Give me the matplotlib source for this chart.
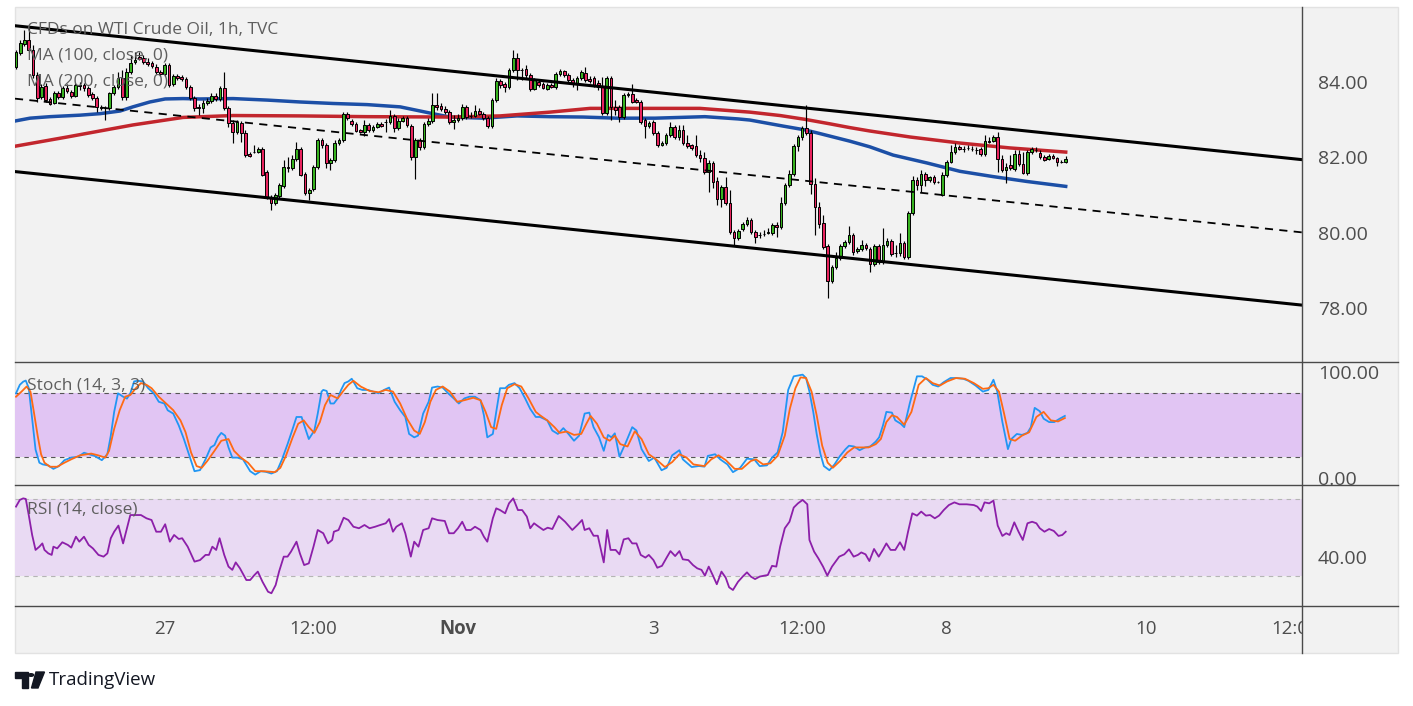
import numpy as np
import matplotlib
matplotlib.use("Agg")
import matplotlib.pyplot as plt
from matplotlib.patches import Rectangle, Polygon, Circle
from matplotlib.lines import Line2D

# ---------------------------------------------------------------- data
opens = [
    84.40, 84.77, 85.01, 85.11, 84.85, 84.19, 83.60, 83.89, 83.55, 83.44,
    83.71, 83.60, 83.84, 83.73, 83.63, 83.89, 83.92, 83.84, 83.68, 83.58,
    83.34, 83.31, 83.31, 83.71, 83.87, 84.11, 83.60, 84.27, 84.53, 84.66,
    84.64, 84.53, 84.51, 84.40, 84.27, 84.21, 84.45, 83.95, 84.16, 84.13,
    84.08, 83.87, 83.58, 83.34, 83.31, 83.44, 83.50, 83.63, 83.55, 83.84,
    83.31, 82.91, 82.67, 82.91, 82.65, 82.09, 82.14, 82.14, 82.22, 81.61,
    80.95, 80.79, 80.98, 81.24, 81.74, 81.72, 81.96, 82.22, 81.56, 81.06,
    81.16, 81.74, 82.46, 82.33, 81.85, 81.93, 82.38, 82.46, 83.15, 82.96,
    82.89, 82.73, 82.67, 82.86, 82.73, 82.81, 82.89, 82.94, 82.94, 83.10,
    82.78, 82.96, 83.04, 82.83, 82.01, 82.46, 82.28, 82.89, 82.96, 83.39,
    83.36, 83.28, 83.20, 82.94, 82.99, 83.04, 83.34, 83.10, 83.10, 83.23,
    83.15, 83.04, 82.83, 83.52, 84.03, 83.95, 83.87, 84.32, 84.64, 84.32,
    84.35, 84.19, 83.81, 84.00, 83.95, 83.81, 83.92, 83.87, 84.21, 84.29,
    84.19, 84.05, 83.97, 84.11, 84.24, 84.08, 84.11, 83.97, 83.87, 83.18,
    84.11, 83.34, 83.34, 83.07, 83.66, 83.68, 83.52, 83.47, 82.99, 82.83,
    82.94, 82.65, 82.33, 82.38, 82.59, 82.81, 82.54, 82.73, 82.38, 82.32,
    82.30, 82.06, 81.98, 81.61, 81.85, 81.37, 80.90, 81.21, 80.79, 80.02,
    79.86, 80.10, 80.23, 80.34, 80.02, 79.94, 79.97, 79.99, 79.99, 80.21,
    80.15, 80.79, 81.27, 81.56, 82.30, 82.54, 82.78, 82.65, 81.29, 80.68,
    80.26, 79.65, 78.72, 79.09, 79.33, 79.65, 79.75, 79.94, 79.52, 79.57,
    79.68, 79.57, 79.17, 79.65, 79.23, 79.68, 79.78, 79.46, 79.46, 79.73,
    79.36, 80.52, 81.40, 81.27, 81.56, 81.40, 81.48, 81.35, 81.00, 81.53,
    81.88, 82.14, 82.28, 82.22, 82.25, 82.22, 82.20, 82.22, 82.09, 82.43,
    82.43, 82.54, 81.96, 81.67, 81.80, 81.69, 82.09, 81.82, 81.59, 82.14,
    82.20, 82.12, 82.01, 81.96, 82.04, 81.98, 81.88, 81.88,
]
highs = [
    84.85, 85.11, 85.38, 85.43, 84.98, 84.27, 83.95, 83.97, 83.60, 83.76,
    83.76, 83.89, 83.95, 83.79, 83.97, 84.00, 83.97, 83.89, 83.73, 83.63,
    83.39, 83.36, 83.73, 83.92, 84.27, 84.32, 84.37, 84.72, 84.80, 84.80,
    84.72, 84.64, 84.56, 84.48, 84.32, 84.51, 84.51, 84.21, 84.21, 84.19,
    84.13, 83.92, 83.63, 83.42, 83.52, 83.58, 83.71, 83.71, 83.89, 84.27,
    83.36, 82.99, 82.99, 82.96, 82.73, 82.14, 82.33, 82.28, 82.28, 81.67,
    81.00, 81.06, 81.32, 81.93, 82.01, 82.06, 82.41, 82.28, 81.61, 81.19,
    81.80, 82.51, 82.51, 82.38, 81.98, 82.46, 82.51, 83.20, 83.20, 83.02,
    82.94, 82.75, 82.99, 82.91, 82.86, 82.94, 82.94, 83.02, 83.26, 83.15,
    83.04, 83.10, 83.10, 82.89, 82.51, 82.51, 82.94, 83.04, 83.71, 83.71,
    83.44, 83.36, 83.26, 83.12, 83.15, 83.42, 83.39, 83.20, 83.39, 83.31,
    83.20, 83.10, 83.58, 84.11, 84.08, 84.00, 84.37, 84.85, 84.77, 84.37,
    84.45, 84.24, 84.11, 84.05, 84.00, 83.97, 83.97, 84.27, 84.35, 84.32,
    84.24, 84.11, 84.16, 84.32, 84.40, 84.16, 84.16, 84.05, 84.13, 84.16,
    84.16, 83.52, 83.39, 83.71, 83.73, 83.95, 83.58, 83.52, 83.04, 82.96,
    82.99, 82.70, 82.43, 82.65, 82.94, 82.86, 82.86, 82.86, 82.59, 82.36,
    82.59, 82.20, 82.14, 81.93, 81.90, 81.48, 81.27, 81.48, 81.13, 80.07,
    80.10, 80.29, 80.42, 80.39, 80.07, 80.02, 80.07, 80.13, 80.26, 80.29,
    80.95, 81.32, 81.67, 82.36, 82.59, 82.83, 83.39, 82.73, 81.45, 80.82,
    80.47, 79.70, 79.15, 79.49, 79.70, 79.81, 80.18, 79.99, 79.62, 79.81,
    79.73, 79.62, 79.70, 79.70, 80.13, 79.86, 79.83, 79.68, 79.99, 79.78,
    80.58, 81.51, 81.48, 81.67, 81.61, 81.51, 81.53, 81.37, 81.61, 81.93,
    82.33, 82.38, 82.33, 82.30, 82.33, 82.30, 82.28, 82.28, 82.59, 82.54,
    82.59, 82.67, 82.06, 81.85, 82.06, 82.20, 82.20, 82.14, 82.20, 82.28,
    82.28, 82.20, 82.06, 82.09, 82.09, 82.01, 81.93, 82.04,
]
lows = [
    84.35, 84.72, 84.95, 84.80, 84.11, 83.47, 83.55, 83.47, 83.39, 83.42,
    83.55, 83.55, 83.71, 83.58, 83.60, 83.79, 83.76, 83.60, 83.52, 83.20,
    83.26, 82.99, 83.26, 83.66, 83.81, 83.52, 83.52, 84.21, 84.48, 84.58,
    84.48, 84.43, 84.37, 84.21, 84.16, 84.16, 83.87, 83.89, 84.05, 84.03,
    83.81, 83.52, 83.23, 83.12, 83.18, 83.39, 83.44, 83.50, 83.50, 83.26,
    82.81, 82.38, 82.62, 82.41, 82.01, 82.01, 82.12, 82.12, 81.51, 80.90,
    80.60, 80.74, 80.92, 81.19, 81.61, 81.67, 81.90, 81.51, 81.00, 80.87,
    81.11, 81.69, 82.25, 81.72, 81.67, 81.88, 82.33, 82.41, 82.99, 82.83,
    82.67, 82.65, 82.57, 82.67, 82.67, 82.78, 82.81, 82.67, 82.89, 82.67,
    82.73, 82.94, 82.81, 81.93, 81.43, 82.20, 82.22, 82.83, 82.91, 83.26,
    83.23, 83.15, 82.89, 82.75, 82.94, 82.99, 83.02, 83.04, 83.07, 83.12,
    82.99, 82.78, 82.78, 83.47, 83.84, 83.73, 83.81, 84.27, 84.05, 84.05,
    84.11, 83.76, 83.79, 83.87, 83.81, 83.79, 83.84, 83.81, 84.16, 84.13,
    84.00, 83.87, 83.79, 84.05, 84.00, 83.97, 83.87, 83.79, 83.12, 83.12,
    82.99, 83.12, 82.94, 83.02, 83.60, 83.44, 83.44, 82.89, 82.51, 82.78,
    82.59, 82.28, 82.30, 82.33, 82.54, 82.49, 82.46, 82.33, 82.25, 82.20,
    82.01, 81.88, 81.56, 81.08, 81.19, 80.74, 80.68, 80.74, 79.97, 79.68,
    79.81, 80.05, 80.18, 79.97, 79.73, 79.86, 79.91, 79.97, 79.94, 79.89,
    80.10, 80.74, 81.21, 81.51, 82.17, 82.46, 82.59, 81.03, 79.94, 80.13,
    79.57, 78.27, 78.67, 79.04, 79.28, 79.60, 79.70, 79.41, 79.46, 79.52,
    79.54, 78.96, 79.12, 79.17, 79.17, 79.62, 79.38, 79.36, 79.38, 79.30,
    79.30, 80.47, 81.13, 81.08, 81.24, 81.35, 81.29, 81.32, 80.98, 81.48,
    81.85, 82.09, 82.20, 82.14, 82.20, 82.17, 82.09, 82.04, 82.04, 82.38,
    82.41, 81.61, 81.61, 81.32, 81.67, 81.64, 81.77, 81.56, 81.53, 82.09,
    82.14, 81.96, 81.90, 81.93, 81.96, 81.77, 81.85, 81.85,
]
closes = [
    84.80, 85.03, 85.11, 84.85, 84.19, 83.58, 83.87, 83.52, 83.42, 83.71,
    83.60, 83.84, 83.76, 83.63, 83.92, 83.92, 83.84, 83.66, 83.58, 83.34,
    83.31, 83.30, 83.71, 83.87, 84.11, 83.60, 84.27, 84.51, 84.58, 84.61,
    84.53, 84.48, 84.43, 84.27, 84.21, 84.45, 83.92, 84.16, 84.11, 84.08,
    83.87, 83.58, 83.31, 83.30, 83.44, 83.50, 83.63, 83.55, 83.84, 83.31,
    82.91, 82.67, 82.94, 82.65, 82.06, 82.04, 82.13, 82.22, 81.53, 80.95,
    80.79, 81.00, 81.27, 81.74, 81.72, 81.96, 82.22, 81.53, 81.06, 81.13,
    81.74, 82.46, 82.33, 81.85, 81.93, 82.38, 82.46, 83.15, 83.04, 82.89,
    82.70, 82.67, 82.86, 82.73, 82.81, 82.89, 82.83, 82.93, 83.10, 82.78,
    82.96, 83.04, 82.86, 82.01, 82.46, 82.28, 82.89, 82.96, 83.39, 83.34,
    83.28, 83.20, 82.94, 82.99, 83.04, 83.34, 83.07, 83.09, 83.23, 83.15,
    83.04, 82.83, 83.52, 84.03, 83.92, 83.87, 84.32, 84.64, 84.32, 84.31,
    84.19, 83.81, 84.05, 83.92, 83.84, 83.92, 83.87, 84.21, 84.29, 84.19,
    84.05, 83.97, 84.11, 84.27, 84.05, 84.03, 83.92, 83.87, 83.18, 84.11,
    83.34, 83.26, 83.07, 83.66, 83.68, 83.47, 83.47, 82.94, 82.83, 82.91,
    82.65, 82.33, 82.38, 82.59, 82.81, 82.54, 82.73, 82.38, 82.30, 82.25,
    82.06, 81.98, 81.61, 81.85, 81.35, 80.90, 81.21, 80.79, 80.02, 79.86,
    80.05, 80.23, 80.34, 80.02, 79.89, 79.93, 79.96, 80.02, 80.21, 80.15,
    80.79, 81.27, 81.56, 82.30, 82.54, 82.78, 82.65, 81.29, 80.68, 80.23,
    79.62, 78.72, 79.09, 79.33, 79.65, 79.75, 79.94, 79.49, 79.57, 79.68,
    79.60, 79.17, 79.65, 79.23, 79.68, 79.78, 79.44, 79.45, 79.73, 79.36,
    80.52, 81.40, 81.27, 81.56, 81.40, 81.48, 81.35, 81.34, 81.53, 81.88,
    82.14, 82.28, 82.22, 82.23, 82.24, 82.21, 82.19, 82.09, 82.43, 82.42,
    82.54, 81.96, 81.67, 81.74, 81.72, 82.09, 81.82, 81.59, 82.14, 82.22,
    82.19, 82.01, 81.93, 82.04, 81.98, 81.88, 81.87, 81.96,
]

# moving averages (bar position, value)
ma100_t = [0, 3.3, 8.0, 15.1, 19.8, 24.5, 27.5, 31.5, 35.1, 39.3, 43.3, 51.1, 59.1,
           66.8, 74.6, 82.6, 90.4, 95.1, 99.8, 102.1, 109.9, 117.9, 125.6, 133.4,
           141.4, 150.4, 162.1, 169.9, 172.7, 180.5, 185.6, 188.5, 193.4, 196.2,
           200.9, 206.4, 214.4, 222.1, 229.9, 237.9, 247]
ma100_v = [82.97, 83.04, 83.08, 83.12, 83.16, 83.23, 83.34, 83.47, 83.55, 83.56, 83.55,
           83.56, 83.52, 83.47, 83.43, 83.40, 83.34, 83.23, 83.12, 83.07, 83.04, 83.10,
           83.08, 83.07, 83.04, 83.04, 83.08, 83.02, 82.99, 82.83, 82.73, 82.65, 82.51,
           82.43, 82.28, 82.06, 81.85, 81.63, 81.49, 81.36, 81.23]
ma200_t = [0, 12.0, 27.5, 39.3, 51.1, 66.8, 82.6, 102.1, 113.9, 125.6, 135.1, 149.2,
           160.9, 172.7, 179.8, 185.6, 191.5, 196.2, 200.9, 210.4, 222.1, 233.9, 247]
ma200_v = [82.30, 82.54, 82.86, 83.06, 83.11, 83.10, 83.08, 83.07, 83.10, 83.20, 83.30,
           83.30, 83.30, 83.20, 83.11, 83.01, 82.89, 82.79, 82.70, 82.54, 82.38, 82.25,
           82.14]

# drawn channel (anchor bars, prices)
channel_bars = [0, 300]
channel_upper = [85.49, 81.97]
channel_mid = [83.555, 80.04]
channel_lower = [81.62, 78.11]

# Stochastic %K
stoch_k_t = [
    0.0, 0.9, 1.7, 2.3, 3.0, 3.8, 4.6, 5.5, 6.3, 7.6,
    8.8, 10.1, 11.4, 13.0, 14.7, 16.0, 17.2, 18.5, 20.2, 21.5,
    22.3, 23.1, 24.0, 25.2, 26.1, 26.9, 27.8, 28.6, 29.9, 31.1,
    32.4, 33.6, 34.9, 35.7, 37.0, 38.3, 39.5, 40.8, 42.0, 43.3,
    44.6, 45.8, 46.7, 47.5, 48.3, 49.2, 50.0, 50.9, 52.1, 53.4,
    55.1, 56.3, 57.6, 58.8, 60.1, 61.4, 62.6, 63.9, 65.1, 66.0,
    67.2, 68.1, 68.9, 70.2, 71.0, 71.9, 72.3, 73.1, 74.0, 74.8,
    75.7, 76.5, 77.3, 78.2, 79.0, 80.3, 81.5, 82.8, 84.0, 85.3,
    86.6, 87.8, 89.1, 90.4, 91.6, 92.5, 93.7, 94.6, 95.8, 97.1,
    97.9, 99.2, 100.4, 101.7, 103.0, 104.2, 105.5, 106.7, 108.0, 109.3,
    110.1, 110.9, 112.2, 113.0, 113.9, 115.1, 116.0, 117.3, 118.5, 119.8,
    121.0, 122.3,
    123.3, 125.0, 126.2, 127.5, 128.8, 130.0, 131.3, 132.5, 133.8, 134.9,
    135.9, 137.2, 138.3, 139.3, 140.1, 140.9, 142.0, 143.5, 145.0, 146.0,
    147.2, 148.9, 150.2, 151.9, 153.1, 154.4, 156.1, 156.9, 159.0, 160.7,
    162.0, 162.8, 164.5, 165.7, 167.4, 168.7, 170.4, 172.0, 173.7, 175.0,
    176.7, 177.9, 179.2, 180.4, 181.7, 183.0, 184.2, 185.1, 185.9, 186.7,
    187.6, 188.4, 189.3, 190.1, 191.4, 192.6, 193.9, 195.2, 196.0, 197.2,
    198.5, 199.8, 201.0, 202.3, 203.1, 204.0, 204.8, 206.1, 206.9, 208.2,
    209.0, 210.3, 212.0, 213.2, 214.5, 215.7, 217.0, 218.3, 219.9, 221.2,
    222.9, 224.1, 225.8, 227.5, 228.8, 230.0, 230.9, 232.1, 233.4, 234.2,
    235.5, 236.7, 238.0, 238.8, 239.7, 240.9, 241.8, 243.1, 244.3, 245.6,
    246.8,
]
stoch_k_v = [
    80, 88, 91, 92, 85, 56, 27, 14.6, 13, 12,
    8.8, 11.4, 17, 19.4, 20.3, 24, 22.6, 21, 17, 22.6,
    40, 62.5, 80, 76.8, 75, 80, 91.2, 91.8, 91.2, 84.8,
    80, 72, 70.4, 64, 60.9, 49.7, 36.9, 21, 6.6, 7.6,
    17.8, 29, 31.2, 38.5, 42.7, 40.1, 29, 19.4, 19.4, 17.8,
    6.6, 3.4, 6.6, 6, 4.4, 6.6, 17.8, 32.1, 46.5, 57.7,
    57.7, 46.5, 36.9, 44.9, 60.9, 81.6, 83.2, 82.2, 70.4, 70.4,
    75.2, 83.2, 89.6, 91.2, 93.7, 84.8, 83.2, 83.2, 81.6, 80,
    83.2, 85.4, 72, 64, 57.7, 41.7, 38.5, 40.1, 60.9, 72,
    85.4, 86.4, 85.4, 80, 75.2, 70.4, 75.2, 76.8, 76.8, 73.5,
    59.3, 38.5, 41.7, 62.5, 84.8, 84.8, 88, 89.6, 84.8, 75.2,
    65.3, 57.7,
    57.7, 54.5, 44.9, 41.7, 47.2, 41.7, 35.3, 40.1, 60.9, 61.8,
    48.1, 38.5, 25.8, 40.8, 38.5, 42.3, 20.3, 33.7, 48.1, 44.9,
    27.4, 16.2, 19.4, 7.5, 9.8, 21.6, 26.4, 17.8, 10.5, 11.5,
    10.9, 21, 22.6, 17.8, 13, 5.7, 9.8, 18.4, 17.8, 11.4,
    12.1, 19.4, 24.2, 43.3, 83.2, 96, 96.9, 97.6, 94.4, 81.6,
    62.4, 41.7, 22.6, 11.4, 7.5, 13, 21, 27.4, 30.6, 29.9,
    26.4, 29, 29.9, 34.5, 38.5, 49.7, 62.5, 61.8, 54.5, 51.3,
    48.1, 70.4, 96, 96, 92.8, 88, 86.4, 90.5, 94.4, 94.4,
    93.7, 91.8, 87.3, 81.6, 83.2, 92.8, 81.6, 52.9, 27.4, 36.9,
    41.7, 40.8, 42.7, 48.1, 66.3, 63.1, 56.1, 52.9, 52.9, 56.1,
    58.7,
]
# Stochastic %D
stoch_d_t = [
    0.0, 1.3, 2.5, 3.4, 4.2, 5.1, 5.9, 6.7, 8.0, 9.7,
    11.4, 13.0, 15.1, 17.7, 19.3, 21.0, 21.9, 23.1, 24.4, 25.7,
    26.9, 28.2, 29.4, 30.7, 31.9, 33.6, 35.3, 37.0, 38.7, 39.9,
    41.2, 42.5, 43.7, 45.0, 46.7, 48.3, 50.0, 51.3, 52.9, 54.6,
    56.3, 58.4, 60.9, 62.2, 63.5, 65.1, 66.4, 67.7, 68.9, 70.2,
    71.5, 72.7, 74.0, 75.7, 76.9, 78.2, 79.4, 81.1, 83.2, 85.3,
    87.0, 88.7, 90.4, 92.0, 93.7, 95.0, 96.2, 97.5, 98.8, 100.4,
    102.1, 103.8, 105.5, 107.6, 109.3, 110.5, 111.8, 113.0, 114.3, 115.6,
    117.3, 118.9, 120.6, 122.3,
    123.3, 125.0, 126.7, 127.9, 129.6, 131.3, 133.0, 134.2, 135.2, 136.7,
    138.3, 139.7, 140.9, 142.2, 143.9, 145.6, 147.2, 148.9, 150.6, 152.7,
    154.4, 156.1, 157.8, 159.4, 162.0, 163.6, 165.3, 167.0, 169.1, 170.8,
    172.9, 174.1, 175.8, 177.5, 179.2, 180.9, 182.1, 183.4, 184.6, 185.9,
    187.2, 188.4, 189.7, 191.0, 192.2, 193.9, 195.6, 197.2, 198.9, 200.6,
    202.3, 203.5, 204.8, 206.1, 207.3, 209.0, 210.7, 212.4, 214.1, 215.7,
    217.4, 219.1, 221.2, 223.3, 225.4, 227.5, 228.8, 230.0, 231.3, 232.5,
    233.8, 235.1, 236.7, 238.4, 240.1, 241.8, 243.5, 245.2, 246.8,
]
stoch_d_v = [
    76.8, 81.6, 86.4, 81.6, 62.5, 40, 22.6, 14.6, 10.8, 10.8,
    14.6, 17.8, 21.6, 23.2, 21.6, 19.4, 25.8, 46.5, 64.1, 76.8,
    78.4, 84.8, 89.6, 88, 84.8, 76.8, 70.4, 64.1, 54.5, 43.3,
    24.2, 11.4, 9.8, 16.2, 25.8, 35.3, 36.9, 25.8, 19.4, 14.6,
    6.6, 6.6, 5.7, 9.8, 21, 38.5, 51.3, 54.5, 48.1, 42.7,
    52.9, 68.8, 78.4, 75.2, 81.6, 88, 91.8, 86.4, 82.2, 81,
    83.2, 81.6, 70.4, 56.1, 44.9, 41.7, 52.9, 72, 83.2, 86.4,
    81.6, 72, 73.5, 75.8, 73.5, 62.5, 48.1, 46.5, 68.8, 84.8,
    88.6, 86.4, 75.2, 62.5,
    59.3, 54.5, 48.1, 42.7, 44, 40.8, 41.7, 51.3, 58.7, 51.3,
    38.5, 35.3, 40.1, 32.1, 29.9, 44.2, 36.9, 22.6, 17.8, 10.5,
    15.2, 22.6, 19.4, 13, 11.4, 17.8, 21.6, 17.1, 8.8, 8.8,
    16.2, 17.8, 13, 14, 21, 40.1, 65.6, 84.8, 95, 94.4,
    81.6, 59.3, 30.6, 14.6, 9.8, 16.2, 24.2, 29, 29, 29,
    32.1, 36.9, 52.9, 59.3, 57.7, 50.4, 62.5, 88, 94.4, 89.6,
    87.3, 91.2, 94.4, 93.7, 89.6, 84.2, 84.8, 88, 81.6, 60.9,
    36.9, 35.3, 40.1, 43.3, 57.7, 62.5, 54.5, 53.5, 56.7,
]
# RSI
rsi_t = [
    0.0, 0.9, 1.7, 2.3, 3.0, 3.8, 4.6, 5.5, 6.2, 6.7,
    7.6, 8.4, 8.8, 9.7, 10.9, 12.2, 13.0, 14.1, 14.9, 16.0,
    17.1, 18.1, 19.4, 20.6, 21.5, 22.3, 23.1, 24.1, 25.2, 26.1,
    26.9, 28.2, 29.4, 30.7, 31.9, 33.0, 34.1, 35.1, 36.2, 37.2,
    38.3, 39.1, 40.4, 42.0, 43.3, 44.6, 45.4, 46.2, 47.1, 47.9,
    49.0, 50.0, 50.9, 51.7, 52.7, 54.2, 55.1, 56.1, 56.9, 58.0,
    59.3, 60.1, 61.1, 61.9, 63.0, 63.9, 64.7, 66.0, 66.8, 67.8,
    68.9, 70.0, 71.0, 72.3, 73.4, 74.4, 74.8, 75.9, 77.1, 78.2,
    79.4, 80.7, 82.0, 83.2, 84.5, 85.7, 87.0, 87.8, 88.7, 89.5,
    90.8, 91.6, 92.9, 93.7, 94.7, 95.8, 97.1, 97.9, 99.2, 100.9,
    101.9, 103.0, 104.0, 105.0, 105.9, 107.0, 108.0, 109.3, 110.1, 110.9,
    112.2, 113.0, 113.9, 115.1, 116.0, 117.0, 118.1, 119.1, 120.2, 121.0,
    121.9, 123.0,
    124.1, 125.1, 126.2, 127.7, 129.2, 130.9, 132.1, 133.2, 133.8, 134.9,
    135.9, 136.9, 138.3, 139.1, 139.9, 141.1, 142.0, 143.0, 144.1, 145.0,
    146.0, 147.0, 148.1, 148.9, 150.0, 150.9, 152.0, 153.1, 154.0, 155.1,
    156.1, 156.9, 158.2, 159.3, 160.3, 161.3, 162.1, 163.0, 164.1, 164.9,
    166.0, 167.0, 167.8, 168.7, 169.9, 171.0, 172.0, 172.9, 173.9, 175.0,
    176.1, 176.9, 177.9, 178.9, 179.8, 180.9, 182.0, 183.0, 184.0, 185.1,
    186.2, 186.7, 187.8, 188.8, 189.9, 190.9, 192.0, 193.7, 194.9, 196.0,
    197.1, 198.1, 198.9, 199.9, 200.8, 201.9, 203.0, 203.8, 204.8, 205.8,
    206.9, 208.0, 209.0, 209.9, 210.9, 212.0, 213.0, 214.1, 215.1, 216.2,
    217.2, 218.3, 219.5, 220.8, 222.0, 223.7, 225.4, 226.2, 227.1, 227.9,
    229.0, 230.0, 231.0, 232.1, 233.0, 233.8, 234.9, 235.9, 236.9, 238.0,
    239.1, 240.1, 240.9, 242.0, 243.1, 244.2, 245.3, 246.2, 247.0,
]
rsi_v = [
    66.2, 69.7, 70.5, 70.2, 61.8, 51.4, 43.6, 45.3, 47, 43.6,
    41.8, 41, 45.3, 44.4, 47.6, 46.2, 44.8, 50.5, 47.9, 50.5,
    46.2, 44.4, 41, 40.1, 41.8, 49.7, 53.1, 56.3, 47, 54.9,
    61.8, 61.8, 61.8, 60.1, 59.2, 53.1, 53.1, 57, 47.9, 51.4,
    49.3, 49.7, 45.3, 37.5, 38.3, 41, 41, 45.3, 43.6, 49.7,
    41, 34.9, 33.2, 37.1, 34, 27.9, 27.9, 30.5, 32.3, 27,
    21.8, 21, 25.3, 32.3, 40.1, 40.1, 42.7, 47.9, 41.8, 35.7,
    36.6, 45.3, 54, 52.3, 47, 48.8, 53.1, 54, 60.4, 59.2,
    55.7, 54.9, 56.6, 54.9, 55.7, 56.6, 57.5, 59.7, 53.1, 55.7,
    57.5, 52.3, 40.1, 47.9, 45.3, 54, 54.9, 60.1, 59.2, 58.7,
    52.3, 52.3, 54.9, 58.3, 54, 54, 55.7, 54, 50.5, 47.9,
    60.1, 65.3, 64.4, 62.7, 67.9, 70.5, 64.4, 64.4, 61, 54.9,
    57.5, 55.7,
    54, 55.2, 54.5, 61.3, 58.3, 54, 56.6, 59.2, 54, 54.9,
    51, 51, 37.1, 54, 43.6, 43.6, 41.3, 49.1, 49.7, 47,
    47, 41, 39.6, 41, 38.3, 34.3, 35.3, 39.6, 43, 40.4,
    43, 38.7, 38.3, 35.7, 34, 33.2, 30.2, 34.9, 29.7, 25.7,
    32.3, 29.1, 24.1, 22.7, 27, 29.7, 31.9, 29.7, 28.4, 29.7,
    30.2, 30.5, 35.3, 34.9, 45.3, 54.9, 58.3, 65.7, 67.9, 69.7,
    67.4, 48.8, 42.7, 39.2, 34.9, 30.2, 34.9, 40.1, 41.3, 43.9,
    40.1, 41, 42.3, 41.3, 37.8, 44.1, 40.1, 43, 47, 43.6,
    43.6, 47.6, 43.6, 53.1, 62.7, 61.5, 63.6, 61.5, 61.8, 60.1,
    61.5, 64.4, 67, 68.4, 67.4, 67.4, 67, 66.2, 63.9, 68.4,
    67.9, 69.3, 56.3, 50.9, 52.3, 51.4, 58, 53.1, 48.8, 57.5,
    58.3, 57.5, 54.9, 53.1, 54.5, 53.5, 50.9, 51.4, 53.1,
]

price_ticks = [78, 80, 82, 84]
stoch_ticks = [0, 100]
rsi_ticks = [40]
time_tick_bars = [35, 70, 104, 150, 185, 219, 266, 301]
time_tick_labels = ["27", "12:00", "Nov", "3", "12:00", "8", "10", "12:00"]

# ---------------------------------------------------------------- style
plt.rcParams["font.family"] = ["Open Sans", "DejaVu Sans"]
GREEN = "#37b21f"
RED = "#e8245e"
TXT = "#4d4d4d"

W, H = 1413, 706
fig = plt.figure(figsize=(W / 100, H / 100), dpi=100)
fig.patch.set_facecolor("white")


def fx(px):
    return px / W


def fy(py):
    return 1 - py / H


L, R, RR = 15, 1302, 1398
TOP, S1, S2, S3, BOT = 7, 362, 485, 606, 653
XMIN, XMAX = -0.235, 302.6

fig.add_artist(Rectangle((fx(L), fy(BOT)), fx(RR) - fx(L), fy(TOP) - fy(BOT),
                         transform=fig.transFigure, facecolor="#f2f2f2",
                         edgecolor="#e2e2e2", lw=1.0, zorder=-5))


def panel(t, b):
    ax = fig.add_axes([fx(L), fy(b), fx(R) - fx(L), fy(t) - fy(b)])
    ax.patch.set_alpha(0)
    for s in ax.spines.values():
        s.set_visible(False)
    ax.set_xlim(XMIN, XMAX)
    ax.tick_params(axis="x", bottom=False, labelbottom=False)
    ax.yaxis.tick_right()
    ax.tick_params(axis="y", right=True, left=False, length=0, pad=11.5,
                   labelsize=14, labelcolor=TXT)
    return ax


# ---- main price panel
ax = panel(TOP, S1)
ax.set_ylim(76.57, 85.99)
ax.set_yticks(price_ticks)
ax.set_yticklabels([f"{v:.2f}" for v in price_ticks])

o = np.array(opens)
h = np.array(highs)
lo = np.array(lows)
c = np.array(closes)
x = np.arange(len(c))

ax.plot(ma100_t, ma100_v, color="#1c4fa6", lw=2.5, zorder=2)
ax.plot(ma200_t, ma200_v, color="#c2262d", lw=2.5, zorder=2)
ax.vlines(x, lo, h, color="black", lw=0.85, zorder=3)
ax.bar(x, c - o, bottom=o, width=0.6, color=np.where(c >= o, GREEN, RED),
       edgecolor="black", linewidth=0.7, zorder=4)
ax.axline((channel_bars[0], channel_upper[0]), (channel_bars[1], channel_upper[1]),
          color="black", lw=2.2, zorder=5)
ax.axline((channel_bars[0], channel_lower[0]), (channel_bars[1], channel_lower[1]),
          color="black", lw=2.2, zorder=5)
ax.axline((channel_bars[0], channel_mid[0]), (channel_bars[1], channel_mid[1]),
          color="black", lw=1.3, ls=(0, (4.5, 3.5)), zorder=5)

# ---- stochastic panel
axs = panel(S1, S2)
axs.set_ylim(-6.4, 109.5)
axs.axhspan(20, 80, color="#e1c5f3", lw=0, zorder=0)
axs.axhline(80, color="#555555", lw=0.8, ls=(0, (4, 4)), zorder=1)
axs.axhline(20, color="#555555", lw=0.8, ls=(0, (4, 4)), zorder=1)
axs.plot(stoch_k_t, stoch_k_v, color="#2196f3", lw=1.3, zorder=3)
axs.plot(stoch_d_t, stoch_d_v, color="#ff6a13", lw=1.3, zorder=4)
axs.set_yticks(stoch_ticks)
axs.set_yticklabels([f"{v:.2f}" for v in stoch_ticks])

# ---- RSI panel
axr = panel(S2, S3)
axr.set_ylim(14.35, 77.47)
axr.axhspan(30, 70, color="#e9daf3", lw=0, zorder=0)
axr.axhline(70, color="#b5b5b5", lw=0.8, ls=(0, (4, 4)), zorder=1)
axr.axhline(30, color="#b5b5b5", lw=0.8, ls=(0, (4, 4)), zorder=1)
axr.plot(rsi_t, rsi_v, color="#8c1fa9", lw=1.3, zorder=3)
axr.set_yticks(rsi_ticks)
axr.set_yticklabels([f"{v:.2f}" for v in rsi_ticks])

# ---- time axis
axt = fig.add_axes([fx(L), fy(BOT), fx(R) - fx(L), fy(S3) - fy(BOT)])
axt.set_xlim(XMIN, XMAX)
axt.set_ylim(0, 1)
axt.axis("off")
for b, lab in zip(time_tick_bars, time_tick_labels):
    axt.text(b, 0.52, lab, ha="center", va="center", fontsize=13.5, color=TXT,
             fontweight="bold" if lab == "Nov" else "normal", clip_on=True)

# ---- separators
for yy in (S1, S2, S3):
    fig.add_artist(Line2D([fx(L), fx(RR)], [fy(yy), fy(yy)], color="#4a4a4a",
                          lw=1.0, zorder=6))
fig.add_artist(Line2D([fx(R), fx(R)], [fy(TOP), fy(BOT)], color="#4a4a4a",
                      lw=1.0, zorder=6))

# ---- legends
legend_kw = dict(fontsize=12.5, color="#5e5e5e", ha="left", va="center", zorder=10)
fig.text(fx(27), fy(30), "CFDs on WTI Crude Oil, 1h, TVC", **legend_kw)
fig.text(fx(27), fy(56), "MA (100, close, 0)", **legend_kw)
fig.text(fx(27), fy(82), "MA (200, close, 0)", **legend_kw)
fig.text(fx(27), fy(386), "Stoch (14, 3, 3)", **legend_kw)
fig.text(fx(27), fy(510), "RSI (14, close)", **legend_kw)

# ---- TradingView logo
def P(pts):
    return [(fx(a), fy(b)) for a, b in pts]

fig.add_artist(Polygon(P([(15, 672), (27.5, 672), (27.5, 688), (21.5, 688),
                          (21.5, 677.5), (15, 677.5)]), closed=True,
                       transform=fig.transFigure, color="#131722", zorder=10))
fig.add_artist(Circle((fx(31), fy(675)), 2.6 / W, transform=fig.transFigure,
                      color="#131722", zorder=10))
fig.add_artist(Polygon(P([(36, 672), (44.5, 672), (38, 688), (31.5, 688)]),
                       closed=True, transform=fig.transFigure, color="#131722",
                       zorder=10))
fig.text(fx(49), fy(680), "TradingView", fontsize=13.5, color="#131722",
         ha="left", va="center")

fig.savefig("out.png", dpi=100, facecolor="white")
